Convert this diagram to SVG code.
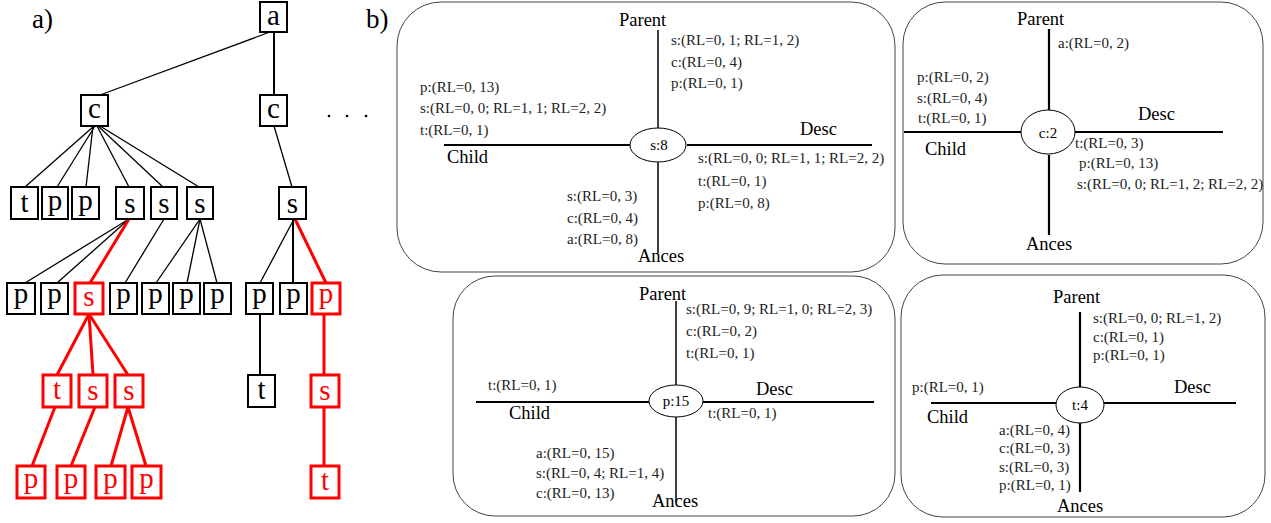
<svg xmlns="http://www.w3.org/2000/svg" width="1271" height="523" viewBox="0 0 1271 523">
<style>
text{font-family:"Liberation Serif","Times New Roman",serif;fill:#000}
.bx{fill:#fff;stroke:#000;stroke-width:2}
.rbx{fill:#fff;stroke:#f00;stroke-width:3}
.lt{font-size:29px;text-anchor:middle}
.rlt{font-size:29px;text-anchor:middle;fill:#f00}
.e{stroke:#000;stroke-width:1.3;fill:none}
.eb{stroke:#000;stroke-width:2;fill:none}
.er{stroke:#f00;stroke-width:3;fill:none}
.panel{fill:#fff;stroke:#444;stroke-width:1}
.ax{stroke:#000;stroke-width:1.5}
.axh{stroke:#000;stroke-width:2.2}
.ell{fill:#fff;stroke:#000;stroke-width:1}
.lab{font-size:18.5px}
.d{font-size:15px;fill:#222}
.nl{font-size:15px;text-anchor:middle}
.hdr{font-size:27px}
</style>

<text class="hdr" x="32" y="28">a)</text>
<text class="hdr" x="366" y="28">b)</text>

<g id="connectors">
<line class="e" x1="270" y1="32" x2="100" y2="95"/>
<line class="eb" x1="274" y1="32" x2="274" y2="95"/>
<line class="e" x1="94" y1="126" x2="25" y2="187"/>
<line class="e" x1="95" y1="126" x2="57" y2="187"/>
<line class="e" x1="93" y1="126" x2="86" y2="187"/>
<line class="e" x1="97" y1="126" x2="129" y2="187"/>
<line class="e" x1="98" y1="126" x2="163" y2="187"/>
<line class="e" x1="100" y1="126" x2="199" y2="187"/>
<line class="e" x1="274" y1="126" x2="292" y2="187"/>
<line class="e" x1="129" y1="219" x2="25" y2="283"/>
<line class="e" x1="129" y1="219" x2="57" y2="283"/>
<line class="er" x1="129" y1="219" x2="90" y2="283"/>
<line class="e" x1="164" y1="219" x2="125" y2="283"/>
<line class="e" x1="200" y1="219" x2="156" y2="283"/>
<line class="e" x1="200" y1="219" x2="187" y2="283"/>
<line class="e" x1="200" y1="219" x2="217" y2="283"/>
<line class="e" x1="294" y1="219" x2="260" y2="283"/>
<line class="eb" x1="293" y1="219" x2="293" y2="283"/>
<line class="er" x1="295" y1="219" x2="326" y2="283"/>
<line class="er" x1="89" y1="314" x2="57" y2="375"/>
<line class="er" x1="89" y1="314" x2="93" y2="375"/>
<line class="er" x1="89" y1="314" x2="128" y2="375"/>
<line class="eb" x1="260" y1="314" x2="260" y2="375"/>
<line class="er" x1="324" y1="314" x2="324" y2="375"/>
<line class="er" x1="55" y1="407" x2="32" y2="466"/>
<line class="er" x1="95" y1="407" x2="71" y2="466"/>
<line class="er" x1="128" y1="407" x2="111" y2="466"/>
<line class="er" x1="128" y1="407" x2="146" y2="466"/>
<line class="er" x1="324" y1="407" x2="324" y2="466"/>
</g>

<g id="n-a"><rect class="bx" x="260" y="2" width="27" height="30"/><text class="lt" x="273.5" y="25">a</text></g>
<g id="n-c1"><rect class="bx" x="81" y="95" width="27" height="31"/><text class="lt" x="94.5" y="118">c</text></g>
<g id="n-c2"><rect class="bx" x="260" y="95" width="27" height="31"/><text class="lt" x="273.5" y="118">c</text></g>

<g id="n-l3-t"><rect class="bx" x="11" y="187" width="27" height="32"/><text class="lt" x="24.5" y="212">t</text></g>
<g id="n-l3-p1"><rect class="bx" x="42" y="187" width="26" height="32"/><text class="lt" x="55" y="210">p</text></g>
<g id="n-l3-p2"><rect class="bx" x="72" y="187" width="27" height="32"/><text class="lt" x="85.5" y="210">p</text></g>
<g id="n-l3-s1"><rect class="bx" x="116" y="187" width="28" height="32"/><text class="lt" x="130" y="213">s</text></g>
<g id="n-l3-s2"><rect class="bx" x="151" y="187" width="26" height="32"/><text class="lt" x="164" y="213">s</text></g>
<g id="n-l3-s3"><rect class="bx" x="187" y="187" width="26" height="32"/><text class="lt" x="200" y="213">s</text></g>
<g id="n-l3-s4"><rect class="bx" x="279" y="187" width="27" height="32"/><text class="lt" x="292.5" y="213">s</text></g>

<g id="n-l4-p1"><rect class="bx" x="7" y="283" width="28" height="31"/><text class="lt" x="21" y="303">p</text></g>
<g id="n-l4-p2"><rect class="bx" x="41" y="283" width="27" height="31"/><text class="lt" x="54.5" y="303">p</text></g>
<g id="n-l4-s"><rect class="rbx" x="75" y="283" width="28" height="31"/><text class="rlt" x="89" y="306">s</text></g>
<g id="n-l4-p3"><rect class="bx" x="110" y="283" width="27" height="31"/><text class="lt" x="123.5" y="303">p</text></g>
<g id="n-l4-p4"><rect class="bx" x="142" y="283" width="27" height="31"/><text class="lt" x="155.5" y="303">p</text></g>
<g id="n-l4-p5"><rect class="bx" x="173" y="283" width="27" height="31"/><text class="lt" x="186.5" y="303">p</text></g>
<g id="n-l4-p6"><rect class="bx" x="204" y="283" width="27" height="31"/><text class="lt" x="217.5" y="303">p</text></g>
<g id="n-l4-p7"><rect class="bx" x="246" y="283" width="27" height="31"/><text class="lt" x="259.5" y="303">p</text></g>
<g id="n-l4-p8"><rect class="bx" x="280" y="283" width="27" height="31"/><text class="lt" x="293.5" y="303">p</text></g>
<g id="n-l4-p9"><rect class="rbx" x="312" y="283" width="28" height="31"/><text class="rlt" x="326" y="303">p</text></g>

<g id="n-l5-t1"><rect class="rbx" x="43" y="375" width="28" height="32"/><text class="rlt" x="57" y="399">t</text></g>
<g id="n-l5-s1"><rect class="rbx" x="79" y="375" width="28" height="32"/><text class="rlt" x="93" y="400">s</text></g>
<g id="n-l5-s2"><rect class="rbx" x="115" y="375" width="28" height="32"/><text class="rlt" x="129" y="400">s</text></g>
<g id="n-l5-t2"><rect class="bx" x="248" y="375" width="27" height="32"/><text class="lt" x="261.5" y="399">t</text></g>
<g id="n-l5-s3"><rect class="rbx" x="311" y="375" width="28" height="32"/><text class="rlt" x="325" y="400">s</text></g>

<g id="n-l6-p1"><rect class="rbx" x="17" y="466" width="28" height="32"/><text class="rlt" x="31" y="488">p</text></g>
<g id="n-l6-p2"><rect class="rbx" x="57" y="466" width="28" height="32"/><text class="rlt" x="71" y="488">p</text></g>
<g id="n-l6-p3"><rect class="rbx" x="96" y="466" width="29" height="32"/><text class="rlt" x="110.5" y="488">p</text></g>
<g id="n-l6-p4"><rect class="rbx" x="132" y="466" width="29" height="32"/><text class="rlt" x="146.5" y="488">p</text></g>
<g id="n-l6-t"><rect class="rbx" x="311" y="466" width="28" height="32"/><text class="rlt" x="325" y="490">t</text></g>

<g id="dots"><circle cx="329" cy="116" r="1.3"/><circle cx="347" cy="116" r="1.3"/><circle cx="366" cy="116" r="1.3"/></g>

<g id="panel-s8">
<rect class="panel" x="397" y="2" width="498" height="270" rx="44"/>
<line class="ax" x1="658" y1="30" x2="658" y2="128"/>
<line class="ax" x1="658" y1="162" x2="658" y2="253"/>
<line class="axh" x1="444" y1="145" x2="630" y2="145"/>
<line class="axh" x1="687" y1="145" x2="872" y2="145"/>
<ellipse class="ell" cx="658" cy="145" rx="28" ry="17"/>
<text class="nl" x="659" y="150">s:8</text>
<text class="lab" x="619" y="26">Parent</text>
<text class="lab" x="447" y="163">Child</text>
<text class="lab" x="800" y="135">Desc</text>
<text class="lab" x="638" y="262">Ances</text>
<text class="d" x="671" y="45">s:(RL=0, 1; RL=1, 2)</text>
<text class="d" x="671" y="67">c:(RL=0, 4)</text>
<text class="d" x="671" y="88">p:(RL=0, 1)</text>
<text class="d" x="420" y="92">p:(RL=0, 13)</text>
<text class="d" x="420" y="113">s:(RL=0, 0; RL=1, 1; RL=2, 2)</text>
<text class="d" x="420" y="135">t:(RL=0, 1)</text>
<text class="d" x="698" y="163">s:(RL=0, 0; RL=1, 1; RL=2, 2)</text>
<text class="d" x="698" y="186">t:(RL=0, 1)</text>
<text class="d" x="698" y="208">p:(RL=0, 8)</text>
<text class="d" x="567" y="201">s:(RL=0, 3)</text>
<text class="d" x="567" y="223">c:(RL=0, 4)</text>
<text class="d" x="567" y="244">a:(RL=0, 8)</text>
</g>

<g id="panel-c2">
<rect class="panel" x="903" y="2" width="360" height="262" rx="42"/>
<line class="axh" x1="1049" y1="29" x2="1049" y2="110"/>
<line class="axh" x1="1049" y1="155" x2="1049" y2="235"/>
<line class="axh" x1="904" y1="132" x2="1021" y2="132"/>
<line class="axh" x1="1075" y1="132" x2="1223" y2="132"/>
<ellipse class="ell" cx="1048" cy="132" rx="27" ry="22"/>
<text class="nl" x="1048" y="138">c:2</text>
<text class="lab" x="1017" y="25">Parent</text>
<text class="lab" x="925" y="155">Child</text>
<text class="lab" x="1138" y="120">Desc</text>
<text class="lab" x="1026" y="250">Ances</text>
<text class="d" x="1058" y="48">a:(RL=0, 2)</text>
<text class="d" x="917" y="82">p:(RL=0, 2)</text>
<text class="d" x="917" y="103">s:(RL=0, 4)</text>
<text class="d" x="918" y="123">t:(RL=0, 1)</text>
<text class="d" x="1075" y="148">t:(RL=0, 3)</text>
<text class="d" x="1079" y="168">p:(RL=0, 13)</text>
<text class="d" x="1077" y="189">s:(RL=0, 0; RL=1, 2; RL=2, 2)</text>
</g>

<g id="panel-p15">
<rect class="panel" x="453" y="276" width="442" height="240" rx="42"/>
<line class="ax" x1="676" y1="301" x2="676" y2="385"/>
<line class="ax" x1="676" y1="417" x2="676" y2="502"/>
<line class="axh" x1="476" y1="402" x2="649" y2="402"/>
<line class="axh" x1="702" y1="402" x2="874" y2="402"/>
<ellipse class="ell" cx="676" cy="401" rx="27" ry="16"/>
<text class="nl" x="676" y="406">p:15</text>
<text class="lab" x="639" y="300">Parent</text>
<text class="lab" x="509" y="419">Child</text>
<text class="lab" x="756" y="395">Desc</text>
<text class="lab" x="652" y="507">Ances</text>
<text class="d" x="686" y="314">s:(RL=0, 9; RL=1, 0; RL=2, 3)</text>
<text class="d" x="686" y="336">c:(RL=0, 2)</text>
<text class="d" x="686" y="358">t:(RL=0, 1)</text>
<text class="d" x="488" y="390">t:(RL=0, 1)</text>
<text class="d" x="708" y="418">t:(RL=0, 1)</text>
<text class="d" x="536" y="458">a:(RL=0, 15)</text>
<text class="d" x="536" y="478">s:(RL=0, 4; RL=1, 4)</text>
<text class="d" x="536" y="498">c:(RL=0, 13)</text>
</g>

<g id="panel-t4">
<rect class="panel" x="901" y="275" width="364" height="242" rx="42"/>
<line class="axh" x1="1080" y1="312" x2="1080" y2="387"/>
<line class="axh" x1="1080" y1="423" x2="1080" y2="492"/>
<line class="axh" x1="931" y1="403" x2="1056" y2="403"/>
<line class="axh" x1="1104" y1="403" x2="1236" y2="403"/>
<ellipse class="ell" cx="1080" cy="405" rx="24" ry="18"/>
<text class="nl" x="1080" y="410">t:4</text>
<text class="lab" x="1053" y="303">Parent</text>
<text class="lab" x="927" y="423">Child</text>
<text class="lab" x="1174" y="393">Desc</text>
<text class="lab" x="1057" y="512">Ances</text>
<text class="d" x="1093" y="323">s:(RL=0, 0; RL=1, 2)</text>
<text class="d" x="1093" y="342">c:(RL=0, 1)</text>
<text class="d" x="1093" y="360">p:(RL=0, 1)</text>
<text class="d" x="912" y="392">p:(RL=0, 1)</text>
<text class="d" x="999" y="435">a:(RL=0, 4)</text>
<text class="d" x="999" y="453">c:(RL=0, 3)</text>
<text class="d" x="999" y="472">s:(RL=0, 3)</text>
<text class="d" x="999" y="490">p:(RL=0, 1)</text>
</g>
</svg>
